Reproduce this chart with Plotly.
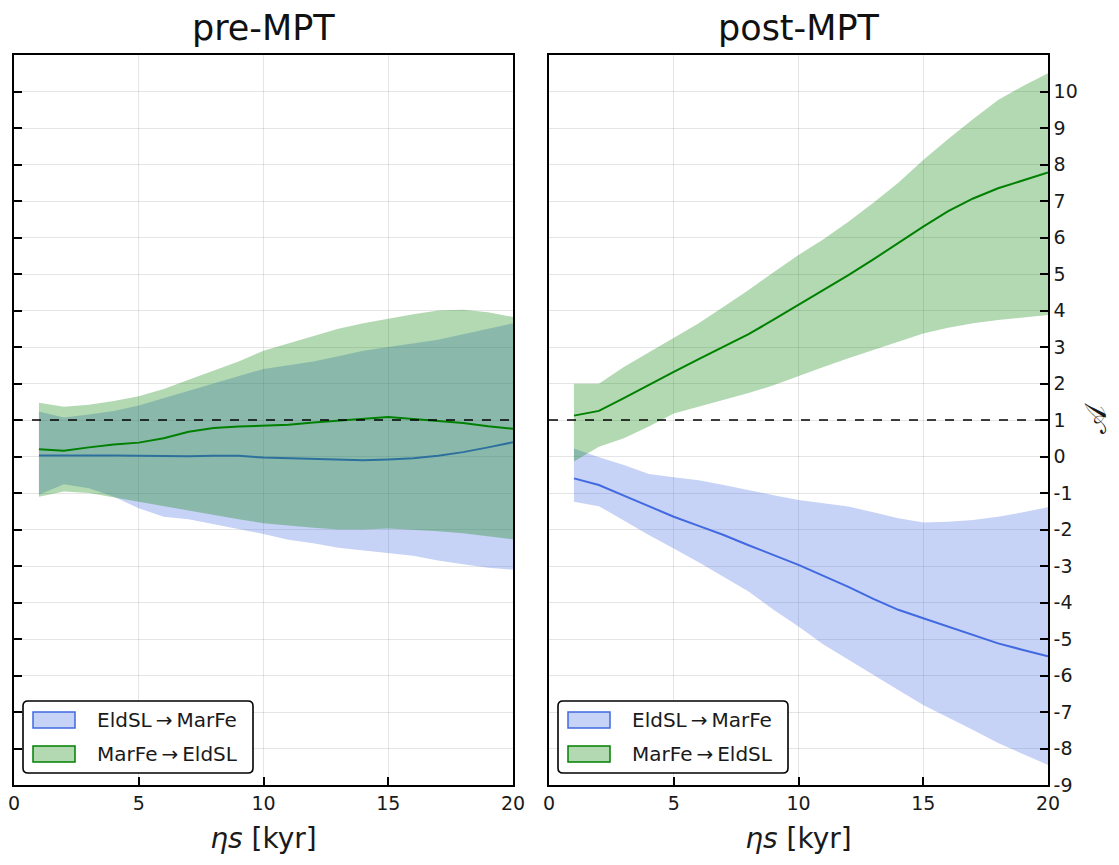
import plotly.graph_objects as go

# ---------------- data ----------------
eta_s = list(range(1, 21))

# pre-MPT
pre_eld_mean  = [0.03, 0.04, 0.03, 0.03, 0.02, 0.02, 0.01, 0.02, 0.02, -0.03,
                 -0.05, -0.06, -0.09, -0.10, -0.08, -0.05, 0.02, 0.12, 0.25, 0.39]
pre_eld_upper = [1.23, 1.07, 1.15, 1.25, 1.40, 1.60, 1.80, 2.00, 2.20, 2.40,
                 2.50, 2.60, 2.75, 2.90, 3.00, 3.10, 3.20, 3.35, 3.50, 3.65]
pre_eld_lower = [-1.05, -0.76, -0.87, -1.10, -1.42, -1.65, -1.72, -1.85, -1.98, -2.12,
                 -2.28, -2.38, -2.50, -2.58, -2.65, -2.72, -2.85, -2.95, -3.05, -3.10]
pre_mar_mean  = [0.20, 0.16, 0.25, 0.33, 0.38, 0.50, 0.68, 0.78, 0.82, 0.84,
                 0.87, 0.93, 0.98, 1.05, 1.08, 1.03, 0.97, 0.92, 0.83, 0.76]
pre_mar_upper = [1.47, 1.36, 1.42, 1.52, 1.65, 1.85, 2.10, 2.35, 2.60, 2.90,
                 3.10, 3.30, 3.50, 3.65, 3.78, 3.90, 4.00, 4.02, 3.95, 3.82]
pre_mar_lower = [-1.10, -0.96, -1.00, -1.10, -1.24, -1.36, -1.48, -1.60, -1.72, -1.83,
                 -1.90, -1.95, -2.00, -2.00, -1.97, -2.00, -2.05, -2.10, -2.18, -2.27]

# post-MPT
post_eld_mean  = [-0.60, -0.78, -1.07, -1.37, -1.65, -1.90, -2.15, -2.43, -2.70, -2.97,
                  -3.27, -3.57, -3.90, -4.20, -4.43, -4.66, -4.89, -5.12, -5.30, -5.47]
post_eld_upper = [0.22, -0.02, -0.23, -0.48, -0.57, -0.65, -0.78, -0.93, -1.06, -1.19,
                  -1.28, -1.37, -1.53, -1.69, -1.81, -1.79, -1.74, -1.65, -1.53, -1.39]
post_eld_lower = [-1.24, -1.36, -1.75, -2.15, -2.52, -2.90, -3.29, -3.70, -4.20, -4.66,
                  -5.15, -5.58, -5.98, -6.40, -6.81, -7.15, -7.49, -7.85, -8.15, -8.45]
post_mar_mean  = [1.12, 1.25, 1.60, 1.97, 2.32, 2.67, 3.00, 3.35, 3.75, 4.15,
                  4.55, 4.97, 5.40, 5.85, 6.30, 6.72, 7.07, 7.35, 7.57, 7.78]
post_mar_upper = [1.99, 1.99, 2.45, 2.85, 3.24, 3.65, 4.10, 4.56, 5.05, 5.52,
                  5.95, 6.43, 6.95, 7.50, 8.12, 8.70, 9.25, 9.77, 10.15, 10.50]
post_mar_lower = [-0.14, 0.27, 0.50, 0.82, 1.18, 1.38, 1.55, 1.74, 1.95, 2.19,
                  2.45, 2.69, 2.92, 3.15, 3.37, 3.53, 3.65, 3.74, 3.82, 3.88]

x_ticks = [0, 5, 10, 15, 20]
x_ticklabels = ["0", "5", "10", "15", "20"]
y_ticks = list(range(-9, 11))
y_ticklabels = [str(v) for v in y_ticks]

panel_titles = ["pre-MPT", "post-MPT"]
series_names = ["EldSL\u2009→\u2009MarFe", "MarFe\u2009→\u2009EldSL"]

# ---------------- style ----------------
BLUE = "rgb(65,105,225)"
BLUE_FILL = "rgba(65,105,225,0.3)"
GREEN = "rgb(0,128,0)"
GREEN_FILL = "rgba(0,128,0,0.3)"
FONT = "DejaVu Sans"
TXT = "#1a1a1a"

W, H = 1119, 865
px = lambda v: v / W
py = lambda v: 1 - v / H

fig = go.Figure()

def add_band(xa, ya, up, lo, fillc, name):
    fig.add_trace(go.Scatter(
        x=eta_s + eta_s[::-1], y=up + lo[::-1], fill="toself",
        fillcolor=fillc, line=dict(width=0), mode="lines", name=name,
        hoverinfo="skip", showlegend=False, xaxis=xa, yaxis=ya))

def add_line(xa, ya, mean, color, name):
    fig.add_trace(go.Scatter(
        x=eta_s, y=mean, mode="lines", line=dict(color=color, width=2),
        name=name, showlegend=False, xaxis=xa, yaxis=ya))

panels = [
    ("x", "y", pre_eld_mean, pre_eld_upper, pre_eld_lower,
     pre_mar_mean, pre_mar_upper, pre_mar_lower),
    ("x2", "y2", post_eld_mean, post_eld_upper, post_eld_lower,
     post_mar_mean, post_mar_upper, post_mar_lower),
]

for xa, ya, em, eu, el, mm, mu, ml in panels:
    add_band(xa, ya, eu, el, BLUE_FILL, series_names[0])
    add_line(xa, ya, em, BLUE, series_names[0])
    add_band(xa, ya, mu, ml, GREEN_FILL, series_names[1])
    add_line(xa, ya, mm, GREEN, series_names[1])

xdom1 = [px(14), px(513)]
xdom2 = [px(549), px(1048)]
ydom = [py(785), py(55)]

common_x = dict(range=[0, 20], tickvals=x_ticks, ticktext=x_ticklabels,
                ticks="inside", ticklen=8, tickwidth=1.5, tickcolor="black",
                showline=True, linecolor="black", linewidth=1.5, mirror=True,
                showgrid=True, gridcolor="rgba(0,0,0,0.1)", gridwidth=1,
                zeroline=False, tickfont=dict(family=FONT, size=19, color=TXT),
                title=dict(text="<i>ηs</i> [kyr]", font=dict(family=FONT, size=28, color=TXT),
                           standoff=16),
                automargin=False)
common_y = dict(range=[-9, 11], tickvals=y_ticks, ticktext=y_ticklabels,
                ticks="inside", ticklen=8, tickwidth=1.5, tickcolor="black",
                showline=True, linecolor="black", linewidth=1.5, mirror=True,
                showgrid=True, gridcolor="rgba(0,0,0,0.1)", gridwidth=1,
                zeroline=False, tickfont=dict(family=FONT, size=19, color=TXT),
                automargin=False)

fig.update_layout(
    width=W, height=H,
    margin=dict(l=0, r=0, t=0, b=0),
    plot_bgcolor="white", paper_bgcolor="white",
    font=dict(family=FONT),
    showlegend=False,
    xaxis=dict(domain=xdom1, anchor="y", **common_x),
    xaxis2=dict(domain=xdom2, anchor="y2", **common_x),
    yaxis=dict(domain=ydom, anchor="x", side="left", showticklabels=False, **common_y),
    yaxis2=dict(domain=ydom, anchor="x2", side="right",
                title=dict(text="𝒜", font=dict(family=FONT, size=30, color=TXT), standoff=8),
                **common_y),
)

# dashed reference line at 1
for xr, yr in [("x domain", "y"), ("x2 domain", "y2")]:
    fig.add_shape(type="line", xref=xr, yref=yr, x0=0, x1=1, y0=1, y1=1,
                  line=dict(color="black", width=1.6, dash="dash"))

# panel titles
for title, dom in zip(panel_titles, [xdom1, xdom2]):
    fig.add_annotation(text=title, x=(dom[0] + dom[1]) / 2, y=py(28),
                       xref="paper", yref="paper", showarrow=False,
                       font=dict(family=FONT, size=35, color="#111"),
                       xanchor="center", yanchor="middle")

# ---------------- legends (drawn per panel) ----------------
def rounded_rect(x0, y0, x1, y1, r):
    X = px
    Y = py
    return (f"M {X(x0+r)},{Y(y0)} L {X(x1-r)},{Y(y0)} Q {X(x1)},{Y(y0)} {X(x1)},{Y(y0+r)} "
            f"L {X(x1)},{Y(y1-r)} Q {X(x1)},{Y(y1)} {X(x1-r)},{Y(y1)} "
            f"L {X(x0+r)},{Y(y1)} Q {X(x0)},{Y(y1)} {X(x0)},{Y(y1-r)} "
            f"L {X(x0)},{Y(y0+r)} Q {X(x0)},{Y(y0)} {X(x0+r)},{Y(y0)} Z")

legend_items = [(series_names[0], BLUE, BLUE_FILL), (series_names[1], GREEN, GREEN_FILL)]
for lx in [23, 558]:
    fig.add_shape(type="path", xref="paper", yref="paper",
                  path=rounded_rect(lx, 701, lx + 230, 773, 5),
                  fillcolor="white", line=dict(color="black", width=1.6), layer="above")
    for i, (name, lc, fc) in enumerate(legend_items):
        cy = 720 + i * 34
        fig.add_shape(type="rect", xref="paper", yref="paper",
                      x0=px(lx + 10), x1=px(lx + 52), y0=py(cy - 8), y1=py(cy + 8),
                      fillcolor=fc, line=dict(color=lc, width=1.5), layer="above")
        fig.add_annotation(text=name, x=px(lx + 72), y=py(cy), xref="paper", yref="paper",
                           showarrow=False, xanchor="left", yanchor="middle",
                           font=dict(family=FONT, size=20, color=TXT))

fig.write_html("out.html")
